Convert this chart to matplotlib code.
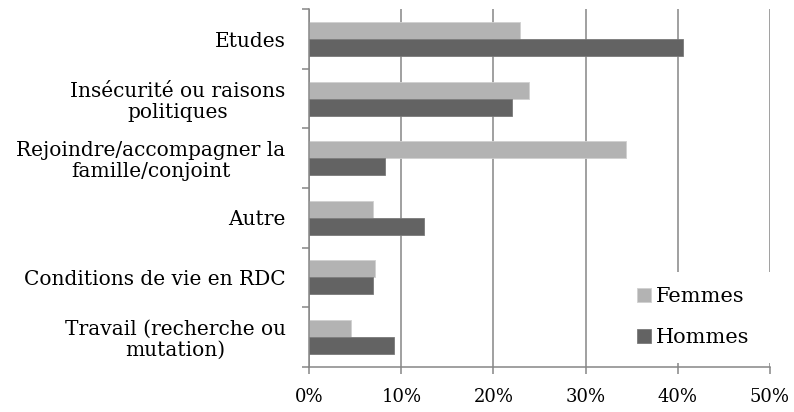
import matplotlib
matplotlib.use("Agg")
import matplotlib.pyplot as plt
import numpy as np
from matplotlib.ticker import FuncFormatter

categories = ["Etudes",
              "Insécurité ou raisons\npolitiques",
              "Rejoindre/accompagner la\nfamille/conjoint",
              "Autre",
              "Conditions de vie en RDC",
              "Travail (recherche ou\nmutation)"]
femmes = [22.9, 23.9, 34.4, 6.9, 7.1, 4.5]
hommes = [40.6, 22.0, 8.2, 12.5, 6.9, 9.2]
xticks = [0, 10, 20, 30, 40, 50]

plt.rcParams['font.family'] = ['DejaVu Serif']
grey = '#868686'

fig = plt.figure(figsize=(7.94, 4.12), dpi=100)
ax = fig.add_axes([0.3896, 0.110, 0.5798, 0.8674])

y = np.arange(len(categories))
h = 0.283
ax.barh(y - h / 2, femmes, height=h, color='#b3b3b3', edgecolor='#d0d0d0', linewidth=0.6, label='Femmes', zorder=2)
ax.barh(y + h / 2, hommes, height=h, color='#636363', edgecolor='#7a7a7a', linewidth=0.6, label='Hommes', zorder=2)

ax.set_xlim(0, 50)
ax.set_ylim(len(categories) - 0.5, -0.5)

ax.set_xticks(xticks)
ax.xaxis.set_major_formatter(FuncFormatter(lambda v, p: f"{v:.0f}%"))
ax.tick_params(axis='x', direction='out', length=5, width=1.1, color=grey, labelsize=13, pad=10)

ax.set_yticks(np.arange(len(categories) + 1) - 0.5)
ax.set_yticklabels([])
ax.tick_params(axis='y', which='major', direction='out', length=5, width=1.1, color=grey)
ax.set_yticks(y, minor=True)
ax.set_yticklabels(categories, minor=True, fontsize=14.5, ha='right', multialignment='center',
                   linespacing=1.15)
ax.tick_params(axis='y', which='minor', length=0, pad=17)

ax.grid(axis='x', color=grey, linewidth=1.1)
ax.set_axisbelow(True)
for s in ['top', 'right']:
    ax.spines[s].set_visible(False)
for s in ['left', 'bottom']:
    ax.spines[s].set_color(grey)
    ax.spines[s].set_linewidth(1.1)
    ax.spines[s].set_zorder(3)

leg = ax.legend(loc='lower left', bbox_to_anchor=(0.677, 0.0104, 0.345, 0.25),
                mode='expand', fontsize=15, frameon=True, facecolor='white',
                edgecolor='none', framealpha=1, fancybox=False,
                handlelength=0.67, handleheight=0.67, handletextpad=0.25,
                labelspacing=1.05, borderpad=0.75, borderaxespad=0)
leg.set_zorder(5)

fig.savefig("out.png", dpi=100)
